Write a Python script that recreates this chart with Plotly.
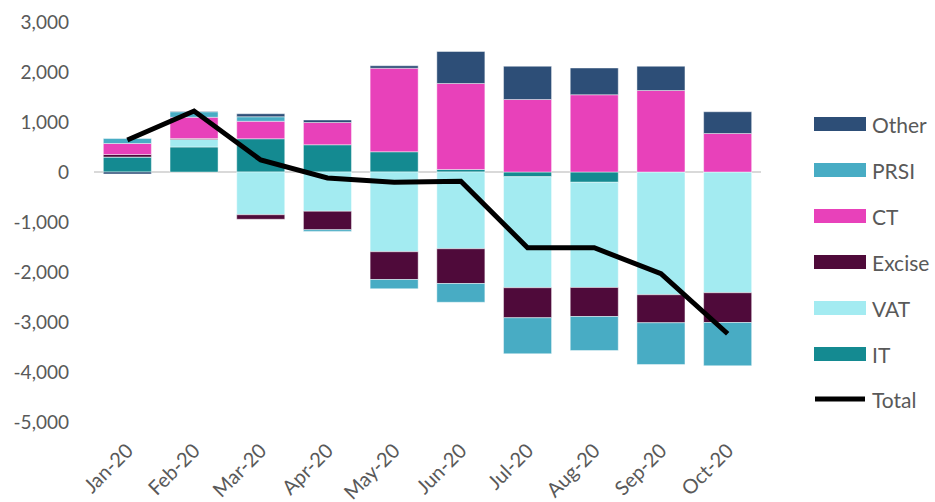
import plotly.graph_objects as go

# Monthly change by tax head (EUR m), 2020
months = ["Jan-20", "Feb-20", "Mar-20", "Apr-20", "May-20",
          "Jun-20", "Jul-20", "Aug-20", "Sep-20", "Oct-20"]
it_vals = [300, 500, 665, 545, 405, 50, -95, -205, 0, 0]
vat_vals = [0, 150, -855, -785, -1595, -1535, -2220, -2105, -2455, -2415]
excise_vals = [50, 20, -90, -370, -555, -695, -600, -580, -560, -595]
ct_vals = [220, 425, 350, 445, 1670, 1720, 1450, 1545, 1630, 770]
prsi_vals = [100, 110, 90, -35, -185, -375, -720, -680, -835, -865]
other_vals = [-40, 10, 60, 50, 50, 640, 665, 535, 485, 435]
total_vals = [640, 1220, 240, -120, -205, -185, -1515, -1515, -2035, -3235]

y_ticks = [3000, 2000, 1000, 0, -1000, -2000, -3000, -4000, -5000]

series = [
    ("IT", it_vals, "#148A91"),
    ("VAT", vat_vals, "#A3EBF1"),
    ("Excise", excise_vals, "#4F0A3A"),
    ("CT", ct_vals, "#E841BA"),
    ("PRSI", prsi_vals, "#48ACC4"),
    ("Other", other_vals, "#2D4E77"),
]

FONT = "Lato, 'Source Sans Pro', 'Noto Sans', sans-serif"
GREY = "#595959"

fig = go.Figure()
for name, vals, color in series:
    fig.add_trace(go.Bar(
        x=months, y=vals, name=name,
        marker=dict(color=color, line=dict(color="rgba(255,255,255,0.55)", width=0.8)),
    ))
fig.add_trace(go.Scatter(
    x=months, y=total_vals, name="Total", mode="lines",
    line=dict(color="#000000", width=5),
))

W, H = 935, 502
ML, MR, MT, MB = 94, 174, 22, 80
pw, ph = W - ML - MR, H - MT - MB

def px_x(x):
    return (x - ML) / pw

def px_y(y):
    return (H - MB - y) / ph

# Legend drawn as wide swatches beside the plot
legend_rows = [("Other", "#2D4E77"), ("PRSI", "#48ACC4"), ("CT", "#E841BA"),
               ("Excise", "#4F0A3A"), ("VAT", "#A3EBF1"), ("IT", "#148A91")]
shapes, annotations = [], []
row_y0, row_step = 124, 46
for i, (label, color) in enumerate(legend_rows):
    cy = row_y0 + i * row_step
    shapes.append(dict(type="rect", xref="paper", yref="paper",
                       x0=px_x(814), x1=px_x(866), y0=px_y(cy + 7), y1=px_y(cy - 7),
                       fillcolor=color, line=dict(width=0)))
    annotations.append(dict(xref="paper", yref="paper", x=px_x(870), y=px_y(cy),
                            text=label, showarrow=False, xanchor="left", yanchor="middle",
                            font=dict(family=FONT, size=21, color=GREY)))
cy = row_y0 + 6 * row_step - 1
shapes.append(dict(type="line", xref="paper", yref="paper",
                   x0=px_x(815), x1=px_x(865), y0=px_y(cy), y1=px_y(cy),
                   line=dict(color="#000000", width=5)))
annotations.append(dict(xref="paper", yref="paper", x=px_x(870), y=px_y(cy),
                        text="Total", showarrow=False, xanchor="left", yanchor="middle",
                        font=dict(family=FONT, size=21, color=GREY)))

fig.update_layout(
    width=W, height=H,
    margin=dict(l=ML, r=MR, t=MT, b=MB, pad=0, autoexpand=False),
    barmode="relative", bargap=0.28,
    plot_bgcolor="white", paper_bgcolor="white",
    showlegend=False,
    font=dict(family=FONT, color=GREY, size=19),
    shapes=shapes, annotations=annotations,
    xaxis=dict(tickangle=-45, showgrid=False, showline=False, ticks="",
               automargin=False, tickfont=dict(size=20, color=GREY),
               ticklabelstandoff=12),
    yaxis=dict(range=[-5000, 3000], tickvals=y_ticks,
               ticktext=[f"{v:,}" for v in y_ticks], automargin=False,
               showgrid=False, zeroline=True, zerolinecolor="#D9D9D9", zerolinewidth=2,
               showline=False, ticks="", ticklabelstandoff=24,
               tickfont=dict(size=19, color=GREY)),
)

fig.write_html("out.html")
